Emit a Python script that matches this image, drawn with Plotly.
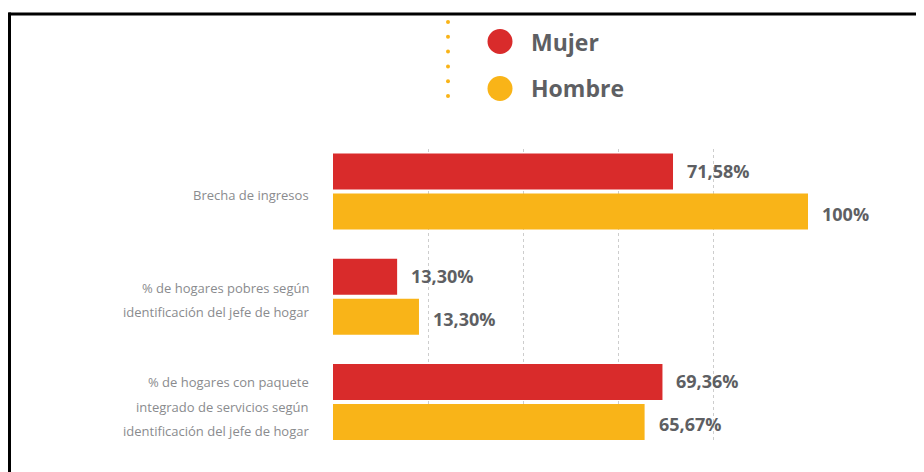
import plotly.graph_objects as go

# ---- data ----
categories = ["Brecha de ingresos",
              "% de hogares pobres según identificación del jefe de hogar",
              "% de hogares con paquete integrado de servicios según identificación del jefe de hogar"]
category_lines = [["Brecha de ingresos"],
                  ["% de hogares pobres según", "identificación del jefe de hogar"],
                  ["% de hogares con paquete", "integrado de servicios según", "identificación del jefe de hogar"]]
mujer = [71.58, 13.5, 69.36]
hombre = [100, 18.1, 65.6]
mujer_labels = ["71,58%", "13,30%", "69,36%"]
hombre_labels = ["100%", "13,30%", "65,67%"]
series_names = ["Mujer", "Hombre"]

RED = "#D92B2B"
YEL = "#F9B418"
DARK = "#5E5F63"
LIGHT = "#8A8B8E"
FONT = "Open Sans"

# page body has an 8px margin; work in window pixels and convert
OFF = 8
W, H = 924 - OFF, 472 - OFF
PL, PR, PT, PB = 333, 808, 149, 441          # plot area in window pixels
L, T = PL - OFF, PT - OFF
R, B = W - (PR - OFF), H - (PB - OFF)
PW, PH = PR - PL, PB - PT

def px(xp):
    return (xp - PL) / PW

def py(yp):
    return (PB - yp) / PH

fig = go.Figure()
fig.add_trace(go.Bar(y=categories, x=mujer, orientation="h", name=series_names[0],
                     marker=dict(color=RED, line=dict(width=0)), showlegend=False))
fig.add_trace(go.Bar(y=categories, x=hombre, orientation="h", name=series_names[1],
                     marker=dict(color=YEL, line=dict(width=0)), showlegend=False))

annotations = []
for i, c in enumerate(categories):
    for vals, labs, shift in ((mujer, mujer_labels, 21), (hombre, hombre_labels, -22)):
        annotations.append(dict(x=vals[i], y=c, xref="x", yref="y", text=labs[i],
                                showarrow=False, xanchor="left", yanchor="middle",
                                xshift=12, yshift=shift,
                                font=dict(family=FONT, size=18, color=DARK, weight="bold")))
    lines = category_lines[i]
    n = len(lines)
    for j, t in enumerate(lines):
        annotations.append(dict(x=0, y=c, xref="paper", yref="y", text=t,
                                showarrow=False, xanchor="right", yanchor="middle",
                                xshift=-22, yshift=-(j - (n - 1) / 2) * 24.5 - 3 - (1.5 if n == 3 else 0),
                                font=dict(family=FONT, size=13, color=LIGHT)))

shapes = []
# legend
for name, col, yc in ((series_names[0], RED, 41.5), (series_names[1], YEL, 88.5)):
    shapes.append(dict(type="circle", xref="paper", yref="paper",
                       xsizemode="pixel", ysizemode="pixel",
                       xanchor=px(500), yanchor=py(yc), x0=-12.5, x1=12.5, y0=-12.5, y1=12.5,
                       fillcolor=col, line=dict(width=0)))
    annotations.append(dict(x=px(529), y=py(yc), xref="paper", yref="paper", text=name,
                            showarrow=False, xanchor="left", yanchor="middle",
                            font=dict(family=FONT, size=23, color=DARK, weight="bold")))
# dotted separator
for k in range(6):
    yc = 22 + k * 14.8
    shapes.append(dict(type="circle", xref="paper", yref="paper",
                       xsizemode="pixel", ysizemode="pixel",
                       xanchor=px(448), yanchor=py(yc), x0=-2, x1=2, y0=-2, y1=2,
                       fillcolor=YEL, line=dict(width=0)))
# frame
shapes.append(dict(type="line", xref="paper", yref="paper", x0=px(8.5), x1=px(940),
                   y0=py(14), y1=py(14), line=dict(color="black", width=3)))
shapes.append(dict(type="line", xref="paper", yref="paper", x0=px(9.5), x1=px(9.5),
                   y0=py(12.5), y1=py(490), line=dict(color="black", width=3)))

fig.update_layout(
    width=W, height=H,
    margin=dict(l=L, r=R, t=T, b=B, pad=0),
    paper_bgcolor="white", plot_bgcolor="white",
    barmode="group", bargap=0.24, bargroupgap=0.1,
    showlegend=False,
    annotations=annotations, shapes=shapes,
    font=dict(family=FONT),
)
fig.update_xaxes(range=[0, 100], showgrid=True, gridcolor="#CDCDCD", griddash="dot",
                 gridwidth=1, dtick=20, zeroline=False, showticklabels=False,
                 showline=False, ticks="")
fig.update_yaxes(type="category", range=[2.37, -0.404], showgrid=False,
                 showticklabels=False, zeroline=False, showline=False, ticks="")

fig.write_html("out.html")
